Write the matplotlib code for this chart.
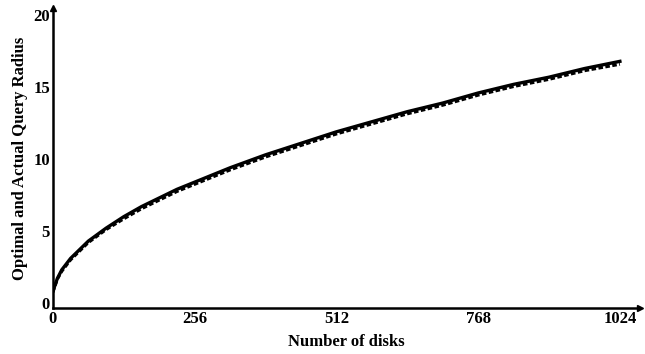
import numpy as np
import matplotlib.pyplot as plt

# Number of disks and query radius
disks = [0, 8, 16, 32, 48, 64, 96, 128, 160, 192, 224, 256, 320, 384, 448,
         512, 576, 640, 704, 768, 832, 896, 960, 1024]
optimal = [0.8, 1.7, 2.3, 3.1, 3.7, 4.3, 5.2, 6.0, 6.7, 7.3, 7.9, 8.4,
           9.4, 10.3, 11.1, 11.9, 12.6, 13.3, 13.9, 14.6, 15.2, 15.7, 16.3, 16.8]
actual = [0.75, 1.65, 2.2, 3.0, 3.6, 4.2, 5.1, 5.85, 6.55, 7.15, 7.75, 8.25,
          9.25, 10.15, 10.95, 11.75, 12.45, 13.15, 13.75, 14.45, 15.05, 15.55, 16.15, 16.6]

xticks = [0, 256, 512, 768, 1024]
yticks = [0, 5, 10, 15, 20]

plt.rcParams['font.family'] = ['Liberation Serif', 'DejaVu Serif']
plt.rcParams['font.weight'] = 'bold'

fig = plt.figure(figsize=(6.45, 3.54), dpi=100)
ax = fig.add_axes([0.082, 0.13, 0.91, 0.847])

ax.plot(disks, optimal, color="black", linewidth=2.4)
ax.plot(disks, actual, color="black", linewidth=2.2, linestyle=(0, (1.5, 0.8)))

ax.set_xlim(0, 1060)
ax.set_ylim(-0.35, 20.5)
ax.set_xticks(xticks)
ax.set_yticks(yticks)
ax.tick_params(length=0, labelsize=12, pad=2)
for lab in ax.get_xticklabels() + ax.get_yticklabels():
    lab.set_fontweight("bold")

ax.spines["top"].set_visible(False)
ax.spines["right"].set_visible(False)
ax.spines["left"].set_linewidth(1.8)
ax.spines["bottom"].set_linewidth(1.8)
ax.plot(1, 0, ">k", transform=ax.transAxes, clip_on=False, markersize=4)
ax.plot(0, 1, "^k", transform=ax.transAxes, clip_on=False, markersize=4)

ax.set_xlabel("Number of disks", fontsize=12, fontweight="bold", labelpad=5)
ax.set_ylabel("Optimal and Actual Query Radius", fontsize=12, fontweight="bold", labelpad=4)

plt.savefig("out.png")
